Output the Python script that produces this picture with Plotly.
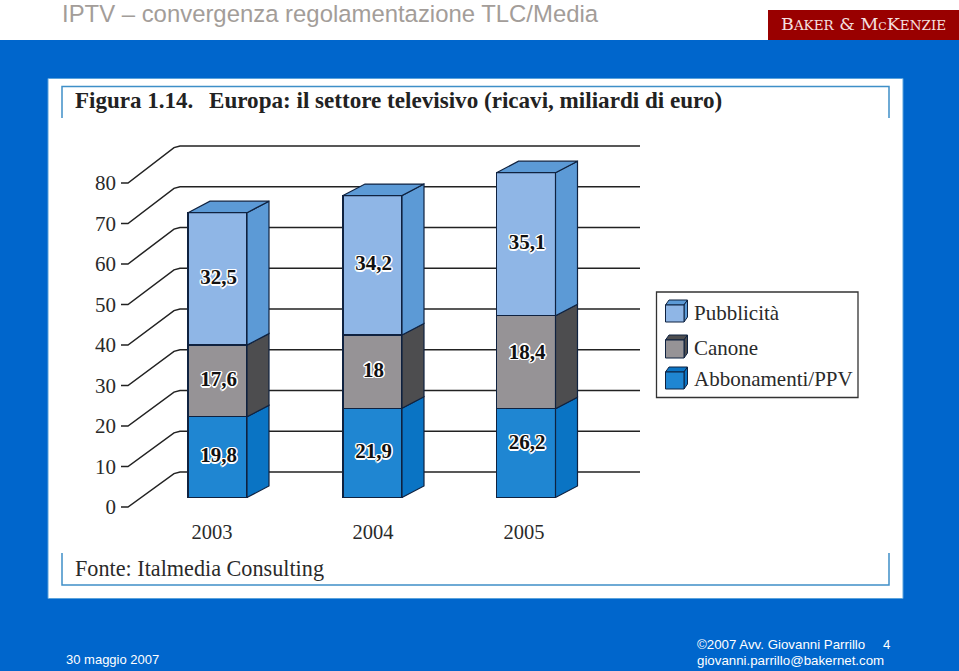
import plotly.graph_objects as go

# ---- data ----
years = ["2003", "2004", "2005"]
pubblicita = [32.5, 34.2, 35.1]
canone = [17.6, 18.0, 22.8]        # height as drawn (2005 is drawn taller than its printed label)
abbonamenti = [19.8, 21.9, 21.8]   # height as drawn (2005 is drawn shorter than its printed label)
label_pubblicita = [32.5, 34.2, 35.1]
label_canone = [17.6, 18.0, 18.4]
label_abbonamenti = [19.8, 21.9, 26.2]
y_ticks = [0, 10, 20, 30, 40, 50, 60, 70, 80]
legend_names = ["Pubblicità", "Canone", "Abbonamenti/PPV"]

# ---- layout constants ----
W, H = 959, 671
ZERO_PX, SCALE = 497.5, 4.075     # bars' value axis
AX0_PX, AX_SCALE = 507.0, 4.05    # labelled value axis
BAR_C = [217.5, 372.5, 526.0]
BAR_W = 59
YEAR_X = [212, 373, 524]
DX, DY = 22, 11.5 / SCALE
BACK_OFF = 25.5 / SCALE           # back wall shift, in value units
BLUE = "#0066CC"
FRAME = "#3F8FC8"
EDGE = "#0F2240"
SERIF = "Liberation Serif"
SANS = "Liberation Sans"
INK = "#2A2A2A"
FRONT = {"p": "#8FB6E6", "c": "#969396", "a": "#1F86D2"}
SIDE = {"p": "#5C9AD6", "c": "#4D4D4F", "a": "#0A74C4"}


def yp(px):
    return 1 - px / H


fig = go.Figure()

bottoms = {"a": [0, 0, 0], "c": abbonamenti,
           "p": [a + c for a, c in zip(abbonamenti, canone)]}
series = [("a", abbonamenti, legend_names[2]), ("c", canone, legend_names[1]),
          ("p", pubblicita, legend_names[0])]

for key, vals, name in series:
    fig.add_trace(go.Bar(x=BAR_C, y=vals, width=BAR_W, name=name, showlegend=False,
                         marker=dict(color=FRONT[key], line=dict(color=EDGE, width=1.3)),
                         hoverinfo="skip"))

# side and top faces follow the bars' values
for key, vals, name in series:
    xs, ys = [], []
    for c, b, v in zip(BAR_C, bottoms[key], vals):
        x1 = c + BAR_W / 2
        t = b + v
        xs += [x1, x1 + DX, x1 + DX, x1, x1, None]
        ys += [b, b + DY, t + DY, t, b, None]
    fig.add_trace(go.Scatter(x=xs, y=ys, mode="lines", fill="toself", fillcolor=SIDE[key],
                             line=dict(color=EDGE, width=1.2), showlegend=False, hoverinfo="skip"))
xs, ys = [], []
for c, a, cc, p in zip(BAR_C, abbonamenti, canone, pubblicita):
    x0, x1, t = c - BAR_W / 2, c + BAR_W / 2, a + cc + p
    xs += [x0, x0 + DX, x1 + DX, x1, x0, None]
    ys += [t, t + DY, t + DY, t, t, None]
fig.add_trace(go.Scatter(x=xs, y=ys, mode="lines", fill="toself", fillcolor=SIDE["p"],
                         line=dict(color=EDGE, width=1.2), showlegend=False, hoverinfo="skip"))

# printed value labels, centred on the printed values
HALO = ("1.5px 0 0 #fff,-1.5px 0 0 #fff,0 1.5px 0 #fff,0 -1.5px 0 #fff,"
        "1px 1px 0 #fff,-1px -1px 0 #fff,1px -1px 0 #fff,-1px 1px 0 #fff")
lx, ly, lt = [], [], []
for c, a, cc, p in zip(BAR_C, label_abbonamenti, label_canone, label_pubblicita):
    lx += [c + 1] * 3
    ly += [a / 2, a + cc / 2, a + cc + p / 2]
    lt += [f"{v:g}".replace(".", ",") for v in (a, cc, p)]
fig.add_trace(go.Scatter(x=lx, y=ly, text=lt, mode="text", textposition="middle center",
                         textfont=dict(family=SERIF, size=21, color="#111111", shadow=HALO, weight="bold"),
                         showlegend=False, hoverinfo="skip"))

# carries the labelled value axis
fig.add_trace(go.Scatter(x=[120] * len(y_ticks), y=y_ticks, yaxis="y2", mode="markers",
                         marker=dict(opacity=0), showlegend=False, hoverinfo="skip"))

shapes = [
    dict(type="rect", xref="paper", yref="paper", x0=0, x1=1, y0=yp(40), y1=1,
         fillcolor="white", line_width=0, layer="below"),
    dict(type="rect", xref="paper", yref="paper", x0=768 / W, x1=1, y0=yp(40), y1=yp(10),
         fillcolor="#990000", line_width=0, layer="below"),
    dict(type="rect", xref="paper", yref="paper", x0=48 / W, x1=903 / W, y0=yp(598.5), y1=yp(78.5),
         fillcolor="white", line=dict(color="#5BA3DC", width=1), layer="below"),
]
for path in (f"M62,118 L62,86.5 L889,86.5 L889,118", f"M62,553 L62,585 L889,585 L889,553"):
    pts = path.replace("M", "").replace("L", "").split()
    d = " ".join(("M" if i == 0 else "L") + f"{float(p.split(',')[0]) / W},{yp(float(p.split(',')[1]))}"
                 for i, p in enumerate(pts))
    shapes.append(dict(type="path", xref="paper", yref="paper", path=d,
                       line=dict(color=FRAME, width=1.5), layer="below"))

# floor/wall grid: stub at the labelled axis, diagonal, then the back wall line
for v in y_ticks:
    stub = (ZERO_PX - (AX0_PX - AX_SCALE * v)) / SCALE
    back = v + BACK_OFF
    d = f"M121,{stub} L128,{stub} L174,{back - 0.4} L180,{back} L640,{back}"
    shapes.append(dict(type="path", xref="x", yref="y", path=d,
                       line=dict(color="#222222", width=1.5), layer="below"))

# legend box with cube swatches
shapes.append(dict(type="rect", xref="paper", yref="paper", x0=656.5 / W, x1=858 / W,
                   y0=yp(397.5), y1=yp(292), fillcolor="white",
                   line=dict(color="#333333", width=1.3), layer="below"))
LEG_Y = [(305, 322), (340, 358), (372, 389)]
LEG_TXT = [313, 348, 379]
for (top, bot), key in zip(LEG_Y, ["p", "c", "a"]):
    x0, x1 = 665.5, 684
    d = 3.5
    r = 5
    def poly(pts):
        return " ".join(("M" if i == 0 else "L") + f"{x / W},{yp(y)}" for i, (x, y) in enumerate(pts)) + " Z"
    shapes.append(dict(type="path", xref="paper", yref="paper",
                       path=poly([(x0, top), (x0 + d, top - r), (x1 + d, top - r), (x1, top)]),
                       fillcolor=SIDE[key], line=dict(color=EDGE, width=1), layer="below"))
    shapes.append(dict(type="path", xref="paper", yref="paper",
                       path=poly([(x1, top), (x1 + d, top - r), (x1 + d, bot - r), (x1, bot)]),
                       fillcolor=SIDE[key], line=dict(color=EDGE, width=1), layer="below"))
    shapes.append(dict(type="rect", xref="paper", yref="paper", x0=x0 / W, x1=x1 / W,
                       y0=yp(bot), y1=yp(top), fillcolor=FRONT[key],
                       line=dict(color=EDGE, width=1), layer="below"))


def note(x, y, text, size, color, family=SANS, anchor="left", **font):
    return dict(xref="paper", yref="paper", x=x / W, y=yp(y), text=text, showarrow=False,
                xanchor=anchor, yanchor="middle", borderpad=0, borderwidth=0,
                font=dict(family=family, size=size, color=color, **font))


annotations = [
    note(62, 13.5, "IPTV – convergenza regolamentazione TLC/Media", 23.9, "#A39D99"),
    note(863, 24, "B<span style='font-size:13.5px'>AKER</span> &amp; M<span style='font-size:11px'>C</span>K"
                  "<span style='font-size:13.5px'>ENZIE</span>", 17.5, "#F5E0E0", "DejaVu Serif", "center"),
    note(75, 100, "Figura 1.14.", 23, "#222222", SERIF, weight="bold"),
    note(209, 100, "Europa: il settore televisivo (ricavi, miliardi di euro)", 23.1, "#222222", SERIF, weight="bold"),
    note(75, 568.5, "Fonte: Italmedia Consulting", 22.2, INK, SERIF),
    note(66, 659.5, "30 maggio 2007", 13, "white"),
    note(697, 644, "©2007 Avv. Giovanni Parrillo", 13.3, "white"),
    note(890, 644, "4", 13.3, "white", anchor="right"),
    note(697, 660, "giovanni.parrillo@bakernet.com", 13.3, "white"),
]
for name, y in zip(legend_names, LEG_TXT):
    annotations.append(note(694, y, name, 21, INK, SERIF))

fig.update_layout(
    width=W, height=H, autosize=False,
    margin=dict(l=0, r=0, t=0, b=0),
    paper_bgcolor=BLUE, plot_bgcolor="rgba(0,0,0,0)",
    barmode="stack", showlegend=False,
    xaxis=dict(range=[0, W], domain=[0, 1], anchor="free", position=yp(517),
               tickmode="array", tickvals=YEAR_X, ticktext=years, ticks="",
               showgrid=False, zeroline=False, showline=False,
               tickfont=dict(family=SERIF, size=20.5, color=INK), fixedrange=True),
    yaxis=dict(range=[(ZERO_PX - H) / SCALE, ZERO_PX / SCALE], domain=[0, 1],
               visible=False, fixedrange=True),
    yaxis2=dict(range=[(AX0_PX - H) / AX_SCALE, AX0_PX / AX_SCALE], domain=[0, 1],
                overlaying="y", anchor="free", position=116 / W, side="left",
                tickmode="array", tickvals=y_ticks, ticks="", showgrid=False, zeroline=False,
                showline=False, tickfont=dict(family=SERIF, size=21, color=INK), fixedrange=True),
    shapes=shapes, annotations=annotations,
)

fig.write_html("out.html", config=dict(displayModeBar=False),
               post_script="document.body.style.margin='0';document.body.style.overflow='hidden';")
